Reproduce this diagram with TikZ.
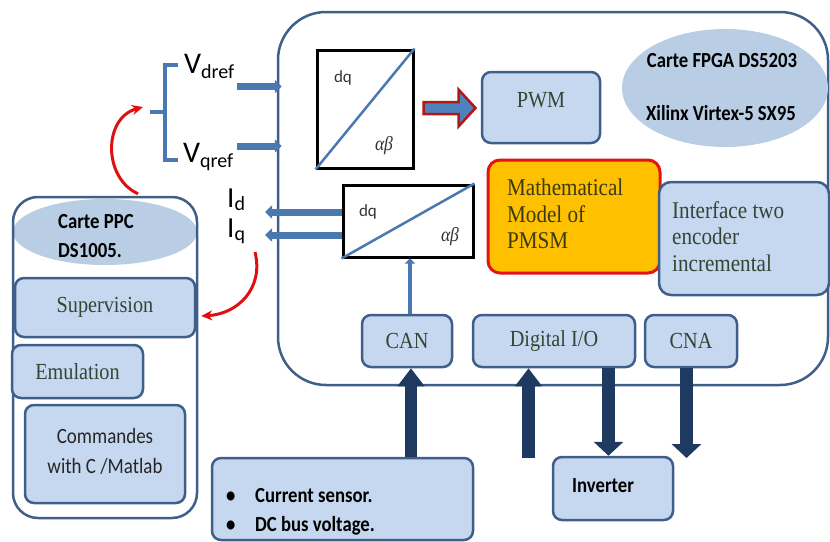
\documentclass[tikz,border=0pt]{standalone}
\usepackage{fontspec}
\setmainfont{Liberation Serif}
\newfontfamily\serifx[FakeStretch=0.88]{Liberation Serif}
\newfontfamily\sansx[FakeStretch=0.87]{Carlito}
\newfontfamily\calib{Carlito}
\usetikzlibrary{arrows.meta,calc,shapes.geometric}

\definecolor{edgeblue}{HTML}{3F5F8A}
\definecolor{boxfill}{HTML}{C6D8EF}
\definecolor{ovalfill}{HTML}{B9CDE5}
\definecolor{steel}{HTML}{4A78B0}
\definecolor{navy}{HTML}{1F3A60}
\definecolor{serifink}{HTML}{364436}
\definecolor{modelink}{HTML}{3A3A12}
\definecolor{modelfill}{HTML}{FFC000}
\definecolor{modeledge}{HTML}{E41414}
\definecolor{signalred}{HTML}{E01010}
\definecolor{darkred}{HTML}{B01818}
\definecolor{pwmblue}{HTML}{4F81BD}
\definecolor{greekink}{HTML}{333333}

\begin{document}
\begin{tikzpicture}[x=1pt,y=-1pt,
  panel/.style={draw=edgeblue, line width=2.5pt, rectangle, inner sep=0pt},
  lbox/.style={panel, fill=boxfill, rounded corners=9pt,
    font=\serifx\fontsize{23}{27}\selectfont, text=serifink},
  serifsans/.style={inner sep=0pt, font=\serifx\fontsize{23}{27}\selectfont, text=serifink},
  oval/.style={ellipse, fill=ovalfill, inner sep=0pt},
  tbox/.style={draw=black, line width=3pt, rectangle, inner sep=0pt},
  diag/.style={steel, line width=2.5pt},
  boldtxt/.style={inner sep=0pt, text=black, font=\sansx\bfseries\fontsize{21.5}{29}\selectfont},
  sig/.style={inner sep=0pt, text=black, font=\calib},
  dqtxt/.style={inner sep=0pt, text=greekink, font=\calib\fontsize{17}{17}\selectfont},
  abtxt/.style={inner sep=0pt, text=greekink, font=\serifx\itshape\fontsize{20}{20}\selectfont},
  upblock/.style={navy, line width=12.5pt, -{Triangle[width=26pt,length=18pt]}},
  downblock/.style={navy, line width=12.5pt, -{Triangle[width=29pt,length=14pt]}},
  thinarrow/.style={steel, line width=7pt, -{Triangle[width=13pt,length=7pt]}},
  redcurve/.style={signalred, line width=3pt, -{Stealth[length=11pt,width=10pt]}},
]
\useasboundingbox (0,0) rectangle (830,541);

% ---------- FPGA board ----------
\node[panel, rounded corners=48pt, minimum width=550pt, minimum height=373pt] (fpga) at (553,198.5) {};
\node[oval, minimum width=206pt, minimum height=118pt] (fpgaoval) at (725,88) {};
\node[boldtxt, anchor=base] (fpgat1) at (722,67) {Carte FPGA DS5203};
\node[boldtxt, anchor=base] (fpgat2) at (721,120) {Xilinx Virtex-5 SX95};

% dq / alpha-beta transforms
\node[tbox, minimum width=96pt, minimum height=118pt] (dq1) at (365,109) {};
\draw[diag] (dq1.south west) -- (dq1.north east);
\node[dqtxt] (dq1a) at (343,78) {dq};
\node[abtxt] (dq1b) at (384,146) {αβ};

\node[tbox, minimum width=130pt, minimum height=72pt] (dq2) at (408,221) {};
\draw[diag] (dq2.south west) -- (dq2.north east);
\node[dqtxt] (dq2a) at (368,212) {dq};
\node[abtxt] (dq2b) at (450,237) {αβ};

% PWM
\node[lbox, minimum width=118pt, minimum height=71pt] (pwm) at (541,107.5) {};
\node[serifsans] (pwmtxt) at (541,100) {PWM};

% block arrow towards PWM
\coordinate (pwmtail) at ($(dq1.east)+(9,-1)$);
\filldraw[fill=pwmblue, draw=darkred, line width=2.5pt, line join=miter]
  (pwmtail) ++(0,-6) -- ++(35,0) -- ++(0,-12.5) -- ++(17,18.5)
  -- ++(-17,18.5) -- ++(0,-12.5) -- ++(-35,0) -- cycle;

% machine model and encoder interface
\node[rectangle, draw=modeledge, fill=modelfill, line width=3pt, rounded corners=12pt,
  minimum width=172pt, minimum height=113pt] (model) at (574,216.5) {};
\node[inner sep=0pt, anchor=north west, align=left, text=modelink,
  font=\serifx\fontsize{24}{26.5}\selectfont] (modeltxt) at (507,179) {Mathematical\\Model of\\PMSM};

\node[lbox, rounded corners=12pt, minimum width=170pt, minimum height=113pt] (iface) at (744,238.5) {};
\node[inner sep=0pt, anchor=north west, align=left, text=serifink,
  font=\serifx\fontsize{24}{26.5}\selectfont] (ifacetxt) at (672,201) {Interface two\\encoder\\incremental};

% I/O blocks
\node[lbox, minimum width=90pt, minimum height=52pt] (can) at (407,341) {CAN};
\node[lbox, minimum width=162pt, minimum height=52pt] (dio) at (554,341) {Digital I/O};
\node[lbox, minimum width=92pt, minimum height=52pt] (cna) at (691,341) {CNA};

% CAN feeds the transform
\draw[steel, line width=4pt, -{Triangle[width=10pt,length=5pt]}]
  ($(can.north)+(3,0)$) -- ($(can.north |- dq2.south)+(3,0)$);

% ---------- PPC board ----------
\node[oval, minimum width=184pt, minimum height=66pt] (ppcoval) at (105,232) {};
\node[panel, rounded corners=25pt, minimum width=184pt, minimum height=321pt] (ppc) at (105,357.5) {};
\node[boldtxt, anchor=north west, align=left] (ppctxt) at (58,214) {Carte PPC\\DS1005.};

\node[lbox, minimum width=180pt, minimum height=59pt] (sup) at (105,307.5) {Supervision};
\node[lbox, minimum width=131pt, minimum height=53pt] (emu) at (77.5,371.5) {Emulation};
\node[lbox, minimum width=160pt, minimum height=98pt] (cmd) at (105,454) {};
\node[inner sep=0pt, anchor=north, align=center, text=black!85,
  font=\sansx\fontsize{21.8}{30}\selectfont] (cmdtxt) at (105,428) {Commandes\\with C /Matlab};

% ---------- external hardware ----------
\node[lbox, minimum width=261pt, minimum height=82pt] (sensors) at (342.5,499) {};
\node[boldtxt, anchor=north west, align=left] (senstxt) at (226,488)
  {\makebox[29pt][l]{\textbullet}Current sensor.\\\makebox[29pt][l]{\textbullet}DC bus voltage.};

\node[lbox, minimum width=120pt, minimum height=63pt] (inverter) at (613,488.5) {};
\node[boldtxt, anchor=base west] (invtxt) at (572,492) {Inverter};

% power / signal block arrows
\coordinate (canin) at ($(can.south)+(4,0)$);
\draw[upblock] (canin |- sensors.north) -- (canin);
\coordinate (dioin) at (528.5,458);
\draw[upblock] (dioin) -- (dioin |- dio.south);
\coordinate (invin) at ($(inverter.north)+(-4.5,0)$);
\draw[downblock] (invin |- dio.south) -- (invin);
\coordinate (cnaout) at (686.5,458);
\draw[downblock] (cnaout |- cna.south) -- (cnaout);

% ---------- reference and measured signals ----------
\node[sig, anchor=base west] (vdl) at (184,73)
  {\fontsize{30}{30}\selectfont V\raisebox{-5pt}{\fontsize{20}{20}\selectfont dref}};
\node[sig, anchor=base west] (vql) at (183,162)
  {\fontsize{30}{30}\selectfont V\raisebox{-5pt}{\fontsize{20}{20}\selectfont qref}};
\node[sig, anchor=base west] (idl) at (227,207)
  {\fontsize{29}{29}\selectfont I\raisebox{-3pt}{\fontsize{20}{20}\selectfont d}};
\node[sig, anchor=base west] (iql) at (227,237)
  {\fontsize{29}{29}\selectfont I\raisebox{-3pt}{\fontsize{20}{20}\selectfont q}};

\coordinate (vdin) at (237,86.5);
\draw[thinarrow, shorten >=-5pt] (vdin) -- (vdin -| fpga.west);
\coordinate (vqin) at (237,146);
\draw[thinarrow, shorten >=-5pt] (vqin) -- (vqin -| fpga.west);

\coordinate (idout) at (265,212);
\draw[thinarrow] (idout -| dq2.west) -- (idout);
\coordinate (iqout) at (265,235);
\draw[thinarrow] (iqout -| dq2.west) -- (iqout);

% brace grouping the references
\coordinate (bt) at (150,112);
\draw[steel, line width=3.5pt] (178,65) -- (165,65) -- (165,160) -- (178,160);
\draw[steel, line width=3.5pt] (165,112) -- (bt);

% red links
\draw[redcurve] ($(ppc.north)+(33,-2)$) .. controls (103,178) and (103,118) .. ($(bt)+(-7,-5)$);
\coordinate (iqtail) at (255,252);
\draw[redcurve] (iqtail) .. controls (264,288) and (238,314) .. ($(sup.east)+(5,8.5)$);

\end{tikzpicture}
\end{document}
